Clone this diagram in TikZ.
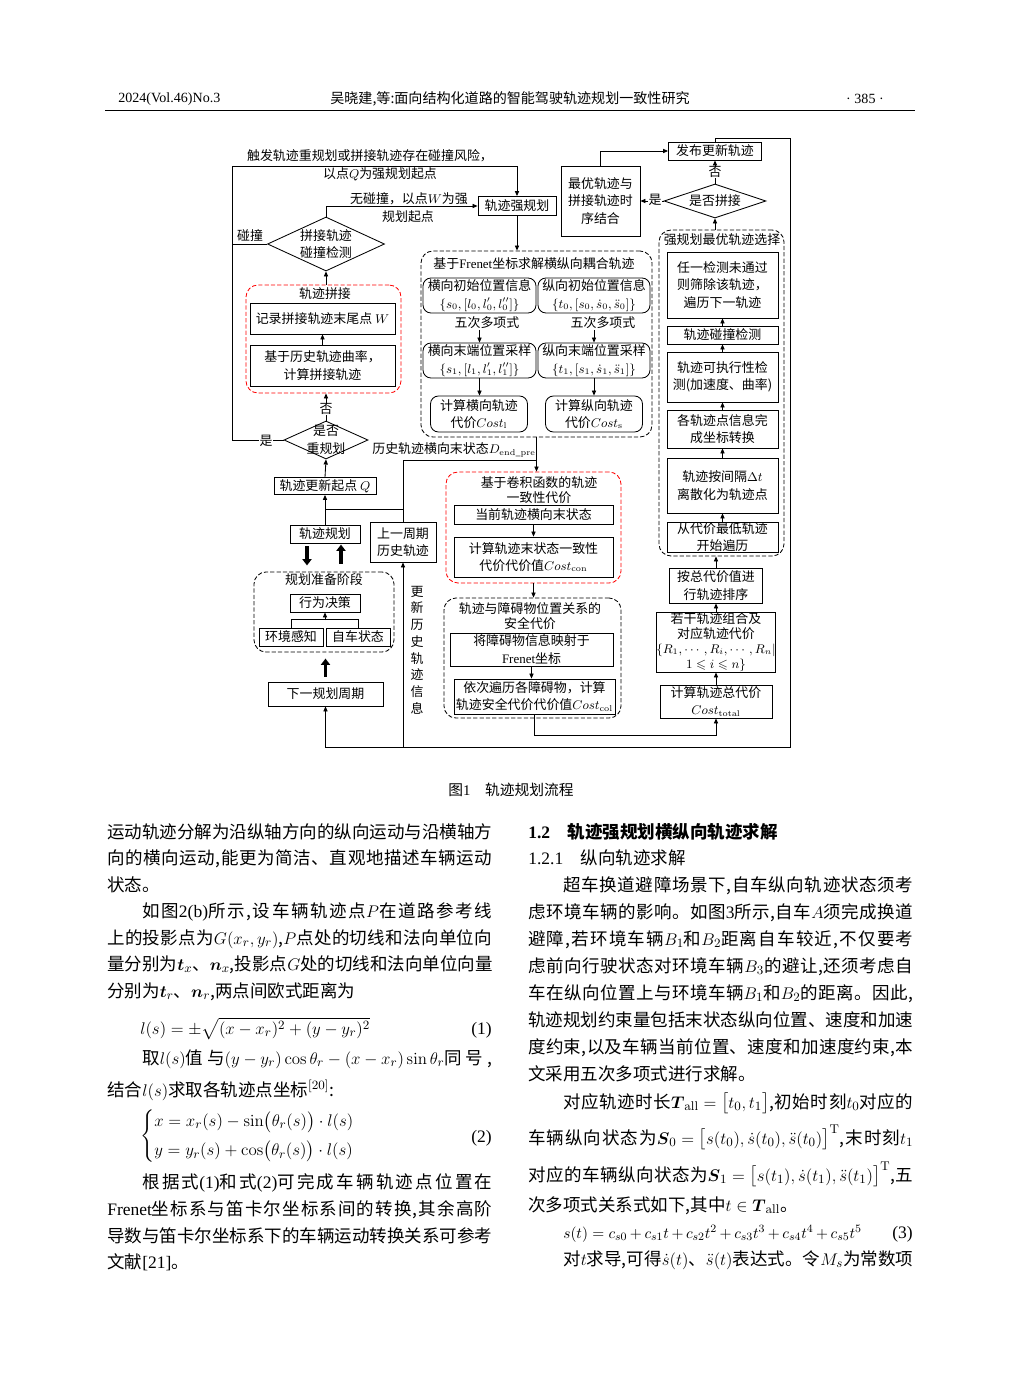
\documentclass[tikz,border=0pt]{standalone}
\usepackage{amsmath,amssymb}
\usepackage[no-math]{fontspec}
\setmainfont{Noto Sans CJK SC}
\newfontfamily\lat{Liberation Serif}
\usetikzlibrary{arrows.meta,shapes.geometric}
% stretchable glue between CJK characters, also inside \hbox
\XeTeXinterchartokenstate=1
\chardef\cjkclass=7
\makeatletter
\count@="3000
\loop\ifnum\count@<"3040 \XeTeXcharclass\count@=\cjkclass \advance\count@ 1 \repeat
\count@="4E00
\loop\ifnum\count@<"A000 \XeTeXcharclass\count@=\cjkclass \advance\count@ 1 \repeat
\count@="FF00
\loop\ifnum\count@<"FFF0 \XeTeXcharclass\count@=\cjkclass \advance\count@ 1 \repeat
\makeatother
\XeTeXinterchartoks\cjkclass\cjkclass={\hskip0pt plus 1pt\relax}
\XeTeXinterchartoks\cjkclass 0={\hskip0pt plus 1pt\relax}
\XeTeXinterchartoks 0\cjkclass={\hskip0pt plus 1pt\relax}
\newdimen\px \px=0.25mm
\newcommand\fl{\fontsize{9.2pt}{12.4pt}\selectfont}
\newcommand\flt{\fontsize{9.2pt}{10.6pt}\selectfont}
\newcommand\bd{\fontsize{12.45pt}{18pt}\selectfont\thickmuskip=5mu\relax\medmuskip=4mu\relax}
\newcommand\hd{\fontsize{10pt}{12pt}\selectfont}
\newcommand\jw[1]{\hbox to 96.25mm{#1}}
\newcommand\ji[1]{\hbox to 87.5mm{#1}}
\begin{document}
\begin{tikzpicture}[x=0.25mm, y=-0.25mm,
    box/.style={rectangle, draw, line width=0.6pt, fill=white, inner sep=0pt, align=center, font=\fl},
    rbox/.style={box, rounded corners=2mm},
    grp/.style={rectangle, draw, dash pattern=on 3pt off 1.5pt, line width=0.6pt, rounded corners=3mm, inner sep=0pt},
    rgrp/.style={grp, draw=red},
    dec/.style={diamond, draw, line width=0.6pt, fill=white, inner sep=0pt},
    lbl/.style={font=\fl, inner sep=0.5pt, align=center},
    line/.style={draw, line width=0.6pt, -{Triangle[length=3.6pt,width=3pt]}},
    thk/.style={draw, line width=2.6pt, -{Triangle[length=4.5pt,width=6.5pt]}},
    tl/.style={anchor=base west, inner sep=0pt, font=\bd}
  ]
  \fill[white] (0,0) rectangle (1020,1375);
  \useasboundingbox (0,0) rectangle (1020,1375);

  % page head
  \node[anchor=west, font=\hd, inner sep=0pt] (hvol) at (118,99) {\lat 2024(Vol.46)No.3};
  \node[font=\hd, inner sep=0pt] (htitle) at (510,99) {吴晓建,等:面向结构化道路的智能驾驶轨迹规划一致性研究};
  \node[anchor=east, font=\hd, inner sep=0pt] (hpage) at (884,99) {\lat · 385 ·};
  \draw[line width=0.5pt] (105,110) -- (915,110);

  % groups
  \node[rgrp, minimum width=155\px, minimum height=108\px] (gspl) at (323.5,339) {};
  \node[grp, minimum width=140\px, minimum height=80\px] (gprep) at (324,612) {};
  \node[grp, minimum width=231\px, minimum height=186\px] (gfr) at (536.5,344) {};
  \node[rgrp, minimum width=175\px, minimum height=111\px] (gcon) at (533.5,527.5) {};
  \node[grp, minimum width=177\px, minimum height=120\px] (gsaf) at (532.5,658) {};
  \node[grp, minimum width=125\px, minimum height=326\px] (gsel) at (721.5,393) {};

  \node[lbl] (tspl) at (325,294) {轨迹拼接};
  \node[lbl] (tprep) at (324,580) {规划准备阶段};
  \node[lbl] (tfr) at (534,264) {基于{\lat Frenet}坐标求解横纵向耦合轨迹};
  \node[lbl, font=\flt] (tcon) at (539,490) {基于卷积函数的轨迹\\一致性代价};
  \node[lbl, font=\flt] (tsaf) at (530,616) {轨迹与障碍物位置关系的\\安全代价};
  \node[lbl] (tsel) at (722,240) {强规划最优轨迹选择};

  % left column
  \node[dec, minimum width=117\px, minimum height=54\px] (dcoll) at (326,244) {};
  \node[lbl] (tcoll) at (dcoll) {拼接轨迹\\碰撞检测};
  \node[box, minimum width=145\px, minimum height=31\px] (rec) at (322.5,318.5) {记录拼接轨迹末尾点 $W$};
  \node[box, minimum width=145\px, minimum height=41\px] (calc) at (322.5,365.5) {基于历史轨迹曲率，\\计算拼接轨迹};
  \node[dec, minimum width=84\px, minimum height=38\px] (dreplan) at (326,440) {};
  \node[lbl] (trep) at (dreplan) {是否\\重规划};
  \node[box, minimum width=102\px, minimum height=17\px] (upd) at (325,486) {轨迹更新起点 $Q$};
  \node[box, minimum width=70\px, minimum height=18\px] (plan) at (325,534) {轨迹规划};
  \node[box, minimum width=66\px, minimum height=40\px] (prev) at (403,542) {上一周期\\历史轨迹};
  \node[box, minimum width=70\px, minimum height=18\px] (dec) at (325,603) {行为决策};
  \node[box, minimum width=64\px, minimum height=18\px] (env) at (291,637) {环境感知};
  \node[box, minimum width=64\px, minimum height=18\px] (ego) at (358,637) {自车状态};
  \node[box, minimum width=115\px, minimum height=24\px] (next) at (325.5,694) {下一规划周期};

  % top
  \node[box, minimum width=78\px, minimum height=19\px] (strong) at (517,206) {轨迹强规划};
  \node[box, minimum width=79\px, minimum height=70\px] (opt) at (600.5,201) {最优轨迹与\\拼接轨迹时\\序结合};
  \node[box, minimum width=93\px, minimum height=18\px] (pub) at (715,151) {发布更新轨迹};
  \node[dec, minimum width=102\px, minimum height=34\px] (dsplice) at (715,201) {};
  \node[lbl] (tsplice) at (dsplice) {是否拼接};

  % Frenet
  \node[rbox, minimum width=113\px, minimum height=35\px] (lat0) at (479.5,295.5) {横向初始位置信息\\$\{s_0,[l_0,l_0',l_0'']\}$};
  \node[rbox, minimum width=112\px, minimum height=35\px] (lon0) at (594,295.5) {纵向初始位置信息\\$\{t_0,[s_0,\dot s_0,\ddot s_0]\}$};
  \node[lbl] (p5a) at (487,323) {五次多项式};
  \node[lbl] (p5b) at (603,323) {五次多项式};
  \node[rbox, minimum width=113\px, minimum height=35\px] (lat1) at (479.5,360.5) {横向末端位置采样\\$\{s_1,[l_1,l_1',l_1'']\}$};
  \node[rbox, minimum width=112\px, minimum height=35\px] (lon1) at (594,360.5) {纵向末端位置采样\\$\{t_1,[s_1,\dot s_1,\ddot s_1]\}$};
  \node[rbox, minimum width=97\px, minimum height=36\px] (costl) at (479,414) {计算横向轨迹\\代价$Cost_{\mathrm{l}}$};
  \node[rbox, minimum width=97\px, minimum height=36\px] (costs) at (594,414) {计算纵向轨迹\\代价$Cost_{\mathrm{s}}$};

  % consistency and safety
  \node[box, minimum width=159\px, minimum height=19\px] (curlat) at (533.5,514.5) {当前轨迹横向末状态};
  \node[box, minimum width=159\px, minimum height=40\px] (ccon) at (533.5,557) {计算轨迹末状态一致性\\代价代价值$Cost_{\mathrm{con}}$};
  \node[box, minimum width=163\px, minimum height=33\px] (obsmap) at (531.5,649.5) {将障碍物信息映射于\\{\lat Frenet}坐标};
  \node[box, minimum width=161\px, minimum height=35\px] (obscost) at (534.5,696.5) {依次遍历各障碍物，计算\\轨迹安全代价代价值$Cost_{\mathrm{col}}$};

  % right column
  \node[box, minimum width=111\px, minimum height=66\px] (s1) at (722.5,285) {任一检测未通过\\则筛除该轨迹，\\遍历下一轨迹};
  \node[box, minimum width=111\px, minimum height=18\px] (s2) at (722.5,335) {轨迹碰撞检测};
  \node[box, minimum width=111\px, minimum height=50\px] (s3) at (722.5,377) {轨迹可执行性检\\测(加速度、曲率)};
  \node[box, minimum width=111\px, minimum height=38\px] (s4) at (722.5,429) {各轨迹点信息完\\成坐标转换};
  \node[box, minimum width=111\px, minimum height=55\px] (s5) at (722.5,485.5) {轨迹按间隔$\Delta t$\\离散化为轨迹点};
  \node[box, minimum width=111\px, minimum height=30\px] (s6) at (722.5,537) {从代价最低轨迹\\开始遍历};
  \node[box, minimum width=93\px, minimum height=35\px] (sort) at (716,585.5) {按总代价值进\\行轨迹排序};
  \node[box, minimum width=112\px, minimum height=60\px, font=\flt] (comb) at (716,642) {若干轨迹组合及\\对应轨迹代价\\$\{R_1,\cdots,R_i,\cdots,R_n|$\\$1\leqslant i\leqslant n\}$};
  \node[box, minimum width=112\px, minimum height=33\px] (total) at (716,701.5) {计算轨迹总代价\\$Cost_{\mathrm{total}}$};

  \coordinate (lft) at (232,166);
  \coordinate (hj) at (0,460);
  \coordinate (jn) at (0,509);
  \coordinate (pj) at (325,620);
  \coordinate (cb) at (0,735);
  \coordinate (bot) at (0,747);

  % connectors
  \draw[line] (dreplan.west) -| (lft) -| (strong.north);
  \draw (dcoll.west) -- (dcoll.west -| lft);
  \draw[line] (dcoll.north) |- (strong.west);
  \draw[line] (dcoll.south |- gspl.north) -- (dcoll.south);
  \draw[line] (calc.north) -- (rec.south);
  \draw[line] (dreplan.north) -- (dreplan.north |- gspl.south);
  \draw[line] (upd.north) -- (dreplan.south);
  \draw[line] (plan.north) -- (upd.south);
  \draw (plan.north |- jn) -- (prev.north |- jn);
  \draw (prev.north) |- (gfr.south |- hj);
  \draw[thk] (plan.south) ++(-18,3) -- ++(0,19);
  \draw[thk] (gprep.north) ++(17,-8) -- ++(0,-19);
  \draw[thk] (next.north) ++(0,-5) -- ++(0,-18);
  \draw (env.north) -- ++(0,-8) -| (ego.north);
  \draw[line] (pj) -- (dec.south);
  \draw[line] (pub.north) |- (790,138) |- (next.south |- bot) -- (next.south);
  \draw[line] (prev.south |- bot) -- (prev.south);

  \draw[line] (strong.south) -- (strong.south |- gfr.north);
  \draw[line] (lat1.north |- p5a.south) -- (lat1.north);
  \draw[line] (lon1.north |- p5b.south) -- (lon1.north);
  \draw[line] (lat1.south) -- (lat1.south |- costl.north);
  \draw[line] (lon1.south) -- (lon1.south |- costs.north);
  \draw[line] (gfr.south) -- (gfr.south |- gcon.north);
  \draw[line] (curlat.south) -- (curlat.south |- ccon.north);
  \draw[line] (gcon.south) -- (gcon.south |- gsaf.north);
  \draw[line] (obsmap.south) -- (obsmap.south |- obscost.north);
  \draw[line] (obscost.south) -- (obscost.south |- cb) -| (total.south);

  \draw[line] (opt.north) |- (pub.west);
  \draw[line] (dsplice.west) -- (opt.east);
  \draw[line] (dsplice.north) -- (pub.south);
  \draw[line] (dsplice.south |- gsel.north) -- (dsplice.south);
  \draw[line] (s2.north) -- (s1.south);
  \draw[line] (s3.north) -- (s2.south);
  \draw[line] (s4.north) -- (s3.south);
  \draw[line] (s5.north) -- (s4.south);
  \draw[line] (s6.north) -- (s5.south);
  \draw[line] (sort.north) -- (sort.north |- gsel.south);
  \draw[line] (comb.north) -- (sort.south);
  \draw[line] (total.north) -- (comb.south);

  % labels
  \node[lbl] (ltrig) at (370,156) {触发轨迹重规划或拼接轨迹存在碰撞风险，};
  \node[lbl] (lq) at (380,174) {以点$Q$为强规划起点};
  \node[lbl] (lnoc) at (409,199) {无碰撞，以点$W$为强};
  \node[lbl] (lnoc2) at (408,217) {规划起点};
  \node[lbl] (lcoll) at (250,236) {碰撞};
  \node[lbl, fill=white] (lyes1) at (266,441) {是};
  \node[lbl, fill=white] (lno1) at (326,409) {否};
  \node[lbl, fill=white] (lyes2) at (655,200) {是};
  \node[lbl, fill=white] (lno2) at (715,172) {否};
  \node[lbl] (lhist) at (454,450) {历史轨迹横向末状态$D_{\mathrm{end\_pre}}$};
  \node[lbl, font={\fontsize{9.2pt}{11.9pt}\selectfont}] (lupd) at (417,650) {更\\新\\历\\史\\轨\\迹\\信\\息};

  \node[font={\fontsize{10.5pt}{12pt}\selectfont}, inner sep=0pt] (cap) at (511,790) {图{\lat 1}\quad 轨迹规划流程};

  % left text column
  \node[tl] (l1) at (107,838) {\jw{运动轨迹分解为沿纵轴方向的纵向运动与沿横轴方}};
  \node[tl] (l2) at (107,864) {\jw{向的横向运动,能更为简洁、直观地描述车辆运动}};
  \node[tl] (l3) at (107,891) {状态。};
  \node[tl] (l4) at (142,917) {\ji{如图{\lat 2(b)}所示,设车辆轨迹点$P$在道路参考线}};
  \node[tl] (l5) at (107,944) {\jw{上的投影点为$G(x_r,y_r)$,$P$点处的切线和法向单位向}};
  \node[tl] (l6) at (107,970) {\jw{量分别为$\boldsymbol{t}_x$、$\boldsymbol{n}_x$,投影点$G$处的切线和法向单位向量}};
  \node[tl] (l7) at (107,997) {分别为$\boldsymbol{t}_r$、$\boldsymbol{n}_r$,两点间欧式距离为};
  \node[tl] (eq1) at (140,1034) {$l(s)=\pm\sqrt{(x-x_r)^2+(y-y_r)^2}$};
  \node[tl, anchor=base east] (n1) at (492,1034) {\lat (1)};
  \node[tl] (l9) at (142,1064) {\ji{取$l(s)$值与$(y-y_r)\cos\theta_r-(x-x_r)\sin\theta_r$同号,}};
  \node[tl] (l10) at (107,1096) {结合$l(s)$求取各轨迹点坐标$^{[20]}$:};
  \node[tl, anchor=west] (eq2) at (140,1136) {$\left\{\begin{aligned}&x=x_r(s)-\sin\bigl(\theta_r(s)\bigr)\cdot l(s)\\&y=y_r(s)+\cos\bigl(\theta_r(s)\bigr)\cdot l(s)\end{aligned}\right.$};
  \node[tl, anchor=base east] (n2) at (492,1142) {\lat (2)};
  \node[tl] (l11) at (142,1188) {\ji{根据式{\lat(1)}和式{\lat(2)}可完成车辆轨迹点位置在}};
  \node[tl] (l12) at (107,1215) {\jw{{\lat Frenet}坐标系与笛卡尔坐标系间的转换,其余高阶}};
  \node[tl] (l13) at (107,1242) {\jw{导数与笛卡尔坐标系下的车辆运动转换关系可参考}};
  \node[tl] (l14) at (107,1268) {文献{\lat [21]}。};

  % right text column
  \node[tl] (r1) at (528,838) {\textbf{{\lat 1.2}\quad 轨迹强规划横纵向轨迹求解}};
  \node[tl] (r2) at (528,864) {{\lat 1.2.1}\quad 纵向轨迹求解};
  \node[tl] (r3) at (563,891) {\ji{超车换道避障场景下,自车纵向轨迹状态须考}};
  \node[tl] (r4) at (528,918) {\jw{虑环境车辆的影响。如图{\lat 3}所示,自车$A$须完成换道}};
  \node[tl] (r5) at (528,945) {\jw{避障,若环境车辆$B_1$和$B_2$距离自车较近,不仅要考}};
  \node[tl] (r6) at (528,972) {\jw{虑前向行驶状态对环境车辆$B_3$的避让,还须考虑自}};
  \node[tl] (r7) at (528,999) {\jw{车在纵向位置上与环境车辆$B_1$和$B_2$的距离。因此,}};
  \node[tl] (r8) at (528,1026) {\jw{轨迹规划约束量包括末状态纵向位置、速度和加速}};
  \node[tl] (r9) at (528,1053) {\jw{度约束,以及车辆当前位置、速度和加速度约束,本}};
  \node[tl] (r10) at (528,1080) {文采用五次多项式进行求解。};
  \node[tl] (r11) at (563,1108) {\ji{对应轨迹时长$\boldsymbol{T}_{\mathrm{all}}=\bigl[t_0,t_1\bigr]$,初始时刻$t_0$对应的}};
  \node[tl] (r12) at (528,1144) {\jw{车辆纵向状态为$\boldsymbol{S}_0=\bigl[s(t_0),\dot s(t_0),\ddot s(t_0)\bigr]^{\mathrm{T}}$,末时刻$t_1$}};
  \node[tl] (r13) at (528,1181) {\jw{对应的车辆纵向状态为$\boldsymbol{S}_1=\bigl[s(t_1),\dot s(t_1),\ddot s(t_1)\bigr]^{\mathrm{T}}$,五}};
  \node[tl] (r14) at (528,1211) {次多项式关系式如下,其中$t\in\boldsymbol{T}_{\mathrm{all}}$。};
  \node[tl, font={\fontsize{11.4pt}{18pt}\selectfont\thickmuskip=5mu\relax\medmuskip=3mu\relax}] (eq3) at (563,1238) {$s(t)=c_{s0}+c_{s1}t+c_{s2}t^2+c_{s3}t^3+c_{s4}t^4+c_{s5}t^5$};
  \node[tl, anchor=base east] (n3) at (913,1238) {\lat (3)};
  \node[tl] (r16) at (563,1265) {\ji{对$t$求导,可得$\dot s(t)$、$\ddot s(t)$表达式。令$M_s$为常数项}};
\end{tikzpicture}
\end{document}
